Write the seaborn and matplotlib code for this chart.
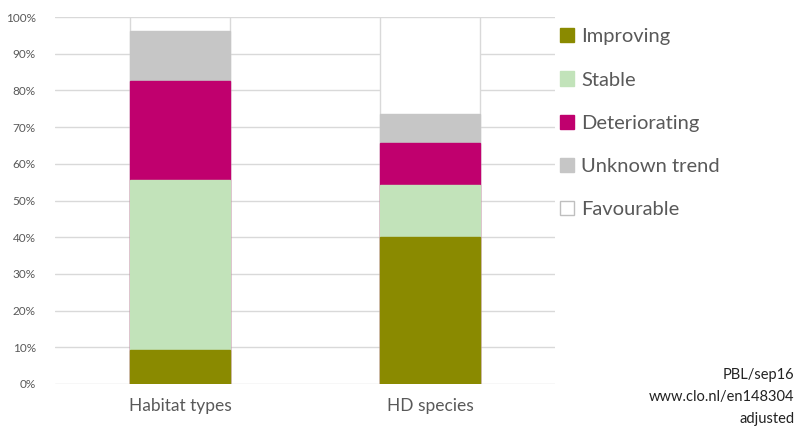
import numpy as np
import matplotlib.pyplot as plt
import matplotlib.patches as mpatches
import seaborn as sns
import pandas as pd

# values (percent of each group)
groups = ["Habitat types", "HD species"]
trends = ["Improving", "Stable", "Deteriorating", "Unknown trend", "Favourable"]
improving = [9.3, 40.1]
stable = [46.2, 14.1]
deteriorating = [27.1, 11.4]
unknown_trend = [13.6, 8.0]
favourable = [3.8, 26.4]
colors = ["#8A8A00", "#C2E3BA", "#C0006E", "#C6C6C6", "#FFFFFF"]
y_ticks = [0, 10, 20, 30, 40, 50, 60, 70, 80, 90, 100]

sns.set_style("white")
plt.rcParams["font.family"] = ["Lato", "DejaVu Sans"]

df = pd.DataFrame({
    "group": groups,
    "Improving": improving,
    "Stable": stable,
    "Deteriorating": deteriorating,
    "Unknown trend": unknown_trend,
    "Favourable": favourable,
})
cum = df[trends].cumsum(axis=1)
cum["group"] = df["group"]

fig = plt.figure(figsize=(8, 4.28), dpi=100)
ax = fig.add_axes([0.069, 0.103, 0.625, 0.857])

# draw tallest stack first so the lower segments sit on top
for trend, col in reversed(list(zip(trends, colors))):
    edge = "#D9D9D9" if trend == "Favourable" else col
    sns.barplot(data=cum, x="group", y=trend, color=col, width=0.4,
                edgecolor=edge, linewidth=1.0, saturation=1, ax=ax, zorder=3)

ax.set_ylim(0, 100)
ax.set_xlim(-0.5, 1.5)
ax.set_yticks(y_ticks)
ax.set_yticklabels([f"{t}%" for t in y_ticks], fontsize=8.5, color="#595959")
ax.tick_params(axis="y", length=0, pad=14)
ax.tick_params(axis="x", length=0, pad=10, labelsize=12.5, labelcolor="#595959")
ax.set_xlabel("")
ax.set_ylabel("")
ax.yaxis.grid(True, color="#D9D9D9", linewidth=1.0, zorder=0)
ax.set_axisbelow(True)
for s in ax.spines.values():
    s.set_visible(False)

handles = []
for trend, col in zip(trends, colors):
    edge = "#BFBFBF" if trend == "Favourable" else col
    handles.append(mpatches.Patch(facecolor=col, edgecolor=edge, label=trend))
leg = fig.legend(handles=handles, loc="upper left", bbox_to_anchor=(0.69, 0.953),
                 frameon=False, fontsize=14.5, handlelength=0.7, handleheight=0.7,
                 handletextpad=0.35, labelspacing=1.3, borderaxespad=0)
for t in leg.get_texts():
    t.set_color("#595959")

fig.text(0.993, 0.072, "PBL/sep16\nwww.clo.nl/en148304\nadjusted",
         ha="right", va="center", fontsize=10.5, color="#222222", linespacing=1.75)

fig.savefig("out.png", dpi=100)
